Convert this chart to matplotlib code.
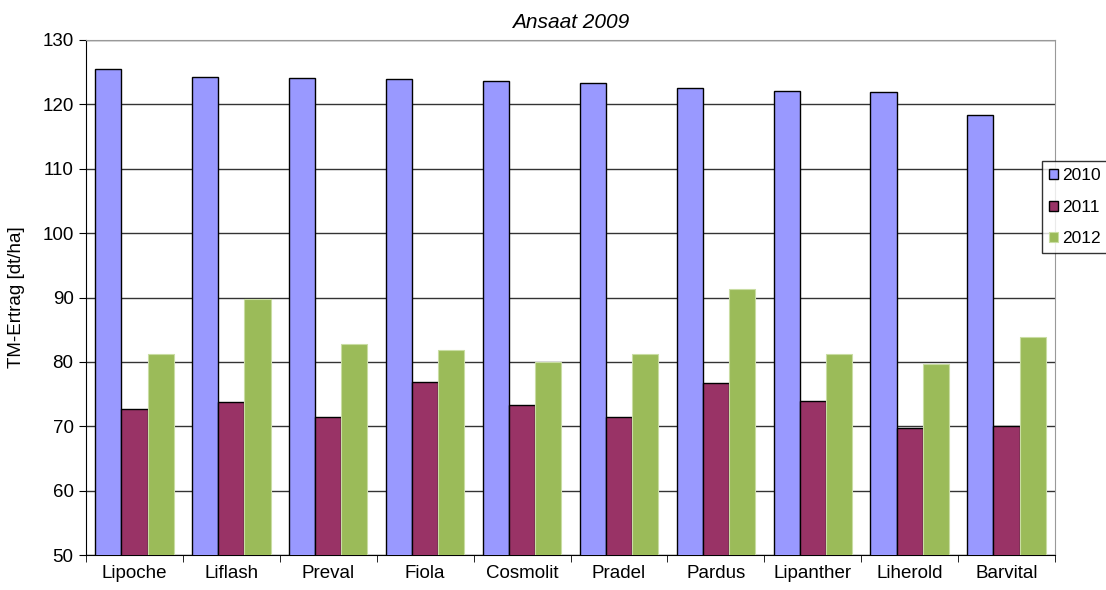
import numpy as np
import matplotlib
matplotlib.use("Agg")
import matplotlib.pyplot as plt

sorten = ["Lipoche", "Liflash", "Preval", "Fiola", "Cosmolit",
          "Pradel", "Pardus", "Lipanther", "Liherold", "Barvital"]
ertrag_2010 = [125.5, 124.3, 124.1, 124.0, 123.6, 123.3, 122.5, 122.1, 121.9, 118.4]
ertrag_2011 = [72.7, 73.8, 71.4, 76.8, 73.3, 71.4, 76.7, 73.9, 69.8, 70.1]
ertrag_2012 = [81.3, 89.7, 82.7, 81.8, 80.0, 81.2, 91.3, 81.3, 79.7, 83.8]
jahre = ["2010", "2011", "2012"]


def main():
    plt.rcParams["font.family"] = ["Liberation Sans", "DejaVu Sans"]

    fig = plt.figure(figsize=(11.06, 5.9), dpi=100)
    ax = fig.add_axes([86 / 1106, 35 / 590, 969 / 1106, 515 / 590])

    x = np.arange(len(sorten))
    w = 0.27
    ax.bar(x - w, ertrag_2010, w, color="#9999FF",
           edgecolor="black", linewidth=1.0, label=jahre[0], zorder=3)
    ax.bar(x, ertrag_2011, w, color="#993366",
           edgecolor="black", linewidth=1.0, label=jahre[1], zorder=3)
    ax.bar(x + w, ertrag_2012, w, color="#9BBB59",
           edgecolor="#C9DDA3", linewidth=0.8, label=jahre[2], zorder=3)

    ax.set_ylim(50, 130)
    ax.set_xlim(-0.5, len(sorten) - 0.5)
    ax.set_yticks(range(50, 131, 10))
    ax.yaxis.grid(True, color="#333333", linewidth=1.0, zorder=0)
    ax.set_axisbelow(True)

    ax.set_xticks(x)
    ax.set_xticklabels(sorten, fontsize=13.5)
    ax.set_xticks(np.arange(-0.5, len(sorten), 1.0), minor=True)
    ax.tick_params(axis="x", which="major", length=0, pad=7)
    ax.tick_params(axis="x", which="minor", length=5, color="black")
    ax.tick_params(axis="y", labelsize=13.5, length=5, color="black", pad=4)

    for s in ["top", "right"]:
        ax.spines[s].set_color("#999999")
    ax.spines["left"].set_color("black")
    ax.spines["bottom"].set_color("black")

    ax.set_ylabel("TM-Ertrag [dt/ha]", fontsize=13.5, labelpad=12)
    ax.set_title("Ansaat 2009", fontsize=15, style="italic", pad=9)

    leg = ax.legend(loc="center left", bbox_to_anchor=(0.9866, 0.675),
                    frameon=True, fancybox=False, fontsize=12.5,
                    handlelength=0.5, handleheight=0.5, handletextpad=0.25,
                    borderpad=0.4, labelspacing=0.95, borderaxespad=0)
    leg.get_frame().set_edgecolor("black")
    leg.get_frame().set_linewidth(1.0)
    leg.set_zorder(5)

    fig.savefig("out.png", dpi=100)


if __name__ == "__main__":
    main()
